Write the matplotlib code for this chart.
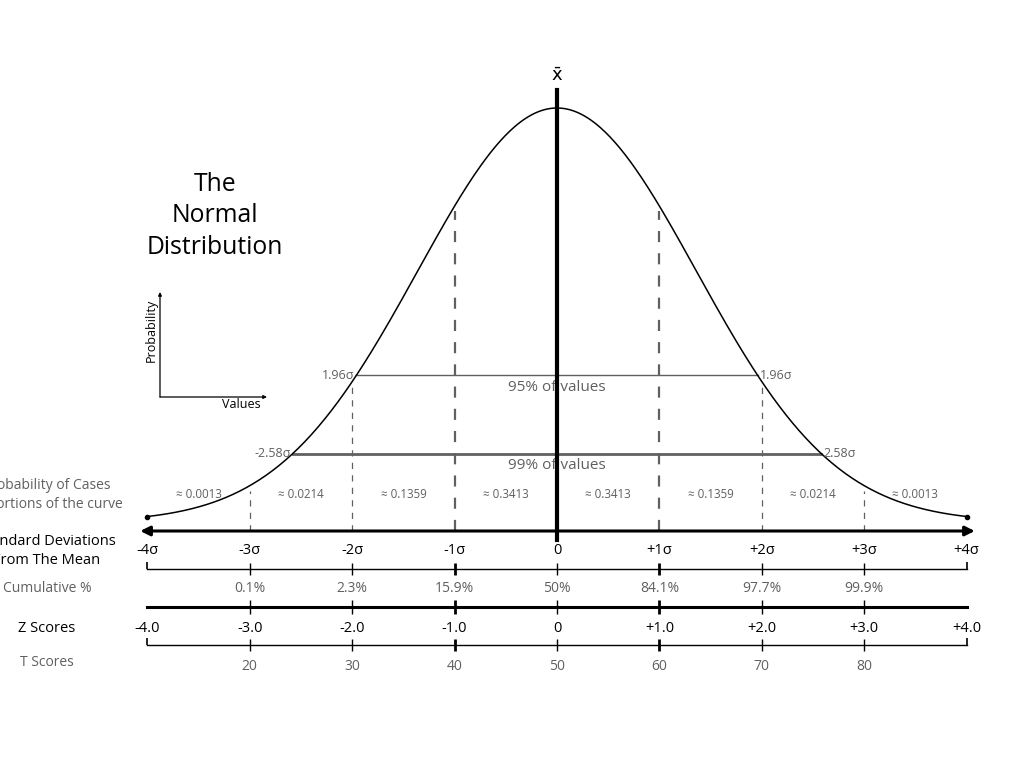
import numpy as np
import matplotlib
matplotlib.use("Agg")
import matplotlib.pyplot as plt

plt.rcParams['font.family'] = ['Open Sans', 'DejaVu Sans']

#Chart values
sigma_pos = [-4, -3, -2, -1, 0, 1, 2, 3, 4]
sigma_labels = ["-4σ", "-3σ", "-2σ", "-1σ", "0", "+1σ", "+2σ", "+3σ", "+4σ"]
cum_pos = [-3, -2, -1, 0, 1, 2, 3]
cum_labels = ["0.1%", "2.3%", "15.9%", "50%", "84.1%", "97.7%", "99.9%"]
z_labels = ["-4.0", "-3.0", "-2.0", "-1.0", "0", "+1.0", "+2.0", "+3.0", "+4.0"]
t_pos = [-3, -2, -1, 0, 1, 2, 3]
t_labels = ["20", "30", "40", "50", "60", "70", "80"]
region_mid = [-3.5, -2.5, -1.5, -0.5, 0.5, 1.5, 2.5, 3.5]
region_prob = ["0.0013", "0.0214", "0.1359", "0.3413", "0.3413", "0.1359", "0.0214", "0.0013"]
ci_z = [1.96, 2.58]
ci_names = ["95% of values", "99% of values"]
ci_left = ["1.96σ", "-2.58σ"]
ci_right = ["1.96σ", "2.58σ"]
dash_pos = [-3, -2, -1, 1, 2, 3]

#Drawn curve shape (wider than the sigma scale in the picture)
curve_width = 1.36
peak = 414

GRAY = "#606060"
BASE = 522


def row(px):
    # layout rows given as pixel rows from top
    return BASE - px


def curve(z):
    return peak * np.exp(-np.asarray(z) ** 2 / (2 * curve_width ** 2))


fig = plt.figure(figsize=(10.24, 7.68), dpi=100)
ax = fig.add_axes([0, 0, 1, 1])
ax.set_xlim(-557 / 102.4, (1024 - 557) / 102.4)
ax.set_ylim(BASE - 768, BASE)
ax.axis("off")

#Curve
zz = np.linspace(-4, 4, 500)
ax.plot(zz, curve(zz), color="black", lw=1.1, zorder=3)
ax.plot([-4, 4], curve([-4, 4]), "o", color="black", ms=3, zorder=3)

#Mean line
ax.plot([0, 0], [row(540), row(90)], color="black", lw=3, zorder=4)
ax.text(0, row(76), r"$\bar{\mathsf{x}}$", ha="center", va="center", fontsize=13)

#Dashed sigma lines
for z in dash_pos:
    lw = 1.6 if abs(z) == 1 else 0.9
    ax.plot([z, z], [row(531), curve(z) - 5], color=GRAY, lw=lw, ls=(0, (5, 5)), zorder=2)

#Confidence lines
for i in range(len(ci_z)):
    z = ci_z[i]
    h = curve(z)
    lw = 1.0 if i == 0 else 2.0
    ax.plot([-z, z], [h, h], color=GRAY, lw=lw, zorder=2)
    ax.text(-z - 0.02, h, ci_left[i], ha="right", va="center", fontsize=9, color=GRAY)
    ax.text(z + 0.02, h, ci_right[i], ha="left", va="center", fontsize=9, color=GRAY)
    ax.text(0, h - 12, ci_names[i], ha="center", va="center", fontsize=11, color=GRAY, zorder=1)

#Region probabilities
for m, p in zip(region_mid, region_prob):
    ax.text(m, row(495), "≈ " + p, ha="center", va="center", fontsize=8.3, color=GRAY)

#Main arrow
ax.annotate("", xy=(4.08, row(531)), xytext=(-4.07, row(531)),
            arrowprops=dict(arrowstyle="<|-|>", lw=2.2, color="black", mutation_scale=14,
                            shrinkA=0, shrinkB=0))

#Sigma row
for p, lab in zip(sigma_pos, sigma_labels):
    ax.text(p, row(551), lab, ha="center", va="center", fontsize=10.5)
ax.plot([-4, 4], [row(569), row(569)], color="black", lw=1)
ax.vlines([-4, 4], row(569), row(562), color="black", lw=1.2)
ax.vlines(sigma_pos[1:-1], row(575), row(563), color="black",
          lw=[2 if abs(p) == 1 else 1 for p in sigma_pos[1:-1]])

#Cumulative row
for p, lab in zip(cum_pos, cum_labels):
    ax.text(p, row(589), lab, ha="center", va="center", fontsize=10, color=GRAY)
ax.plot([-4, 4], [row(607), row(607)], color="black", lw=2.2)
ax.vlines(cum_pos, row(614), row(600), color="black",
          lw=[2 if abs(p) == 1 else 1 for p in cum_pos])

#Z scores row
for p, lab in zip(sigma_pos, z_labels):
    ax.text(p, row(628), lab, ha="center", va="center", fontsize=10.5)
ax.plot([-4, 4], [row(645), row(645)], color="black", lw=1)
ax.vlines([-4, 4], row(645), row(638), color="black", lw=1.2)
ax.vlines(sigma_pos[1:-1], row(651), row(639), color="black",
          lw=[2 if abs(p) == 1 else 1 for p in sigma_pos[1:-1]])

#T scores row
for p, lab in zip(t_pos, t_labels):
    ax.text(p, row(667), lab, ha="center", va="center", fontsize=10, color=GRAY)

#Row labels
lx = -4.98
ax.text(lx, row(495), "Probability of Cases\nin portions of the curve", ha="center", va="center",
        fontsize=10, color=GRAY, linespacing=1.28)
ax.text(lx, row(551), "Standard Deviations\nFrom The Mean", ha="center", va="center",
        fontsize=10.5, color="black", linespacing=1.36)
ax.text(lx, row(589), "Cumulative %", ha="center", va="center", fontsize=10, color=GRAY)
ax.text(lx, row(628), "Z Scores", ha="center", va="center", fontsize=10.5, color="black")
ax.text(lx, row(663), "T Scores", ha="center", va="center", fontsize=10, color=GRAY)

#Title
ax.text(-3.34, row(216), "The\nNormal\nDistribution", ha="center", va="center",
        fontsize=17.8, linespacing=1.32)

#Small axes sketch
ox, oy = -3.877, row(397)
ax.annotate("", xy=(ox, row(292)), xytext=(ox, oy),
            arrowprops=dict(arrowstyle="-|>", lw=0.9, color="black", mutation_scale=5,
                            shrinkA=0, shrinkB=0))
ax.annotate("", xy=(-2.832, oy), xytext=(ox, oy),
            arrowprops=dict(arrowstyle="-|>", lw=0.9, color="black", mutation_scale=5,
                            shrinkA=0, shrinkB=0))
ax.text(-3.965, row(330), "Probability", rotation=90, ha="center", va="center", fontsize=9)
ax.text(-3.086, row(405), "Values", ha="center", va="center", fontsize=9)

fig.savefig("out.png", dpi=100, facecolor="white")
